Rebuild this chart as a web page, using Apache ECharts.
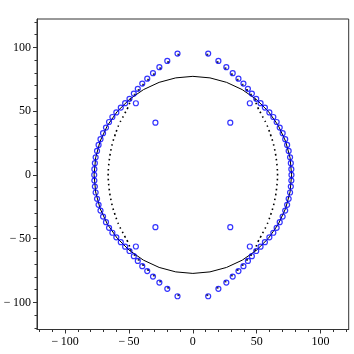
<!DOCTYPE html>
<html>
<head>
<meta charset="utf-8">
<script src="https://cdn.jsdelivr.net/npm/echarts@6/dist/echarts.min.js"></script>
<style>
  html, body { margin: 0; padding: 0; background: #fff; }
  #main { width: 354px; height: 354px; }
</style>
</head>
<body>
<div id="main"></div>
<script>
// axis ranges and ticks
var xRange = [-122, 122];
var yRange = [-121.3, 122.3];
var majorTicks = [-100, -50, 0, 50, 100];
var minorTicks = [-120, -110, -90, -80, -70, -60, -40, -30, -20, -10, 10, 20, 30, 40, 60, 70, 80, 90, 110, 120];

// solid circle (radius about 77), read every 10 degrees
var solidCurve = [
  [0, 77.3], [-13.4, 76.1], [-26.4, 72.6], [-38.65, 66.9], [-49.7, 59.2], [-59.2, 49.7], [-66.9, 38.65], [-72.6, 26.4], [-76.1, 13.4],
  [-77.3, 0], [-76.1, -13.4], [-72.6, -26.4], [-66.9, -38.65], [-59.2, -49.7], [-49.7, -59.2], [-38.65, -66.9], [-26.4, -72.6], [-13.4, -76.1],
  [0, -77.3], [13.4, -76.1], [26.4, -72.6], [38.65, -66.9], [49.7, -59.2], [59.2, -49.7], [66.9, -38.65], [72.6, -26.4], [76.1, -13.4],
  [77.3, 0], [76.1, 13.4], [72.6, 26.4], [66.9, 38.65], [59.2, 49.7], [49.7, 59.2], [38.65, 66.9], [26.4, 72.6], [13.4, 76.1], [0, 77.3]
];

// dotted inner curves (left and right)
var dottedLeft = [
  [-49.4, 56.5], [-51.2, 52], [-53.4, 48], [-55.5, 44], [-57.6, 40], [-59.4, 35.5], [-61, 31], [-62.6, 26], [-63.8, 21], [-64.8, 16],
  [-65.5, 11], [-66, 6], [-66.3, 0], [-66, -6], [-65.5, -11], [-64.8, -16], [-63.8, -21], [-62.6, -26], [-61, -31], [-59.4, -35.5],
  [-57.6, -40], [-55.5, -44], [-53.4, -48], [-51.2, -52], [-49.4, -56.5]
];
var dottedRight = [
  [49.4, 56.5], [51.2, 52], [53.4, 48], [55.5, 44], [57.6, 40], [59.4, 35.5], [61, 31], [62.6, 26], [63.8, 21], [64.8, 16],
  [65.5, 11], [66, 6], [66.3, 0], [66, -6], [65.5, -11], [64.8, -16], [63.8, -21], [62.6, -26], [61, -31], [59.4, -35.5],
  [57.6, -40], [55.5, -44], [53.4, -48], [51.2, -52], [49.4, -56.5]
];

// sparse black points near the top and bottom
var blackPoints = [
  [-11.3, 94.3], [-19.3, 88.5], [-25.5, 83.6], [-30.5, 78.9], [-35, 74.6], [-38.9, 70.7], [-42.4, 66.6], [-45.5, 62.9], [-48.8, 58.9],
  [11.3, 94.3], [19.3, 88.5], [25.5, 83.6], [30.5, 78.9], [35, 74.6], [38.9, 70.7], [42.4, 66.6], [45.5, 62.9], [48.8, 58.9],
  [-11.3, -94.3], [-19.3, -88.5], [-25.5, -83.6], [-30.5, -78.9], [-35, -74.6], [-38.9, -70.7], [-42.4, -66.6], [-45.5, -62.9], [-48.8, -58.9],
  [11.3, -94.3], [19.3, -88.5], [25.5, -83.6], [30.5, -78.9], [35, -74.6], [38.9, -70.7], [42.4, -66.6], [45.5, -62.9], [48.8, -58.9]
];

// blue circles
var blueUpperLeft = [
  [-12, 95.2], [-20, 89.4], [-26.2, 84.5], [-31.2, 79.8], [-35.7, 75.5], [-39.6, 71.6], [-43.1, 67.5], [-46.2, 63.8], [-49.6, 59.7],
  [-53, 56.3], [-56.4, 52.8], [-59.9, 49], [-63, 45.4], [-65.6, 41.5], [-68, 37.1], [-70.3, 32.7], [-72.3, 28], [-73.8, 23.5],
  [-75, 18.8], [-76.1, 13.8], [-76.7, 9.2], [-77.1, 4.5], [-77.2, 0]
];
var blueLowerLeft = [
  [-12, -95.2], [-20, -89.4], [-26.2, -84.5], [-31.2, -79.8], [-35.7, -75.5], [-39.6, -71.6], [-43.1, -67.5], [-46.2, -63.8], [-49.6, -59.7],
  [-53, -56.3], [-56.4, -52.8], [-59.9, -49], [-63, -45.4], [-65.6, -41.5], [-68, -37.1], [-70.3, -32.7], [-72.3, -28], [-73.8, -23.5],
  [-75, -18.8], [-76.1, -13.8], [-76.7, -9.2], [-77.1, -4.5]
];
var blueUpperRight = [
  [12, 95.2], [20, 89.4], [26.2, 84.5], [31.2, 79.8], [35.7, 75.5], [39.6, 71.6], [43.1, 67.5], [46.2, 63.8], [49.6, 59.7],
  [53, 56.3], [56.4, 52.8], [59.9, 49], [63, 45.4], [65.6, 41.5], [68, 37.1], [70.3, 32.7], [72.3, 28], [73.8, 23.5],
  [75, 18.8], [76.1, 13.8], [76.7, 9.2], [77.1, 4.5], [77.2, 0]
];
var blueLowerRight = [
  [12, -95.2], [20, -89.4], [26.2, -84.5], [31.2, -79.8], [35.7, -75.5], [39.6, -71.6], [43.1, -67.5], [46.2, -63.8], [49.6, -59.7],
  [53, -56.3], [56.4, -52.8], [59.9, -49], [63, -45.4], [65.6, -41.5], [68, -37.1], [70.3, -32.7], [72.3, -28], [73.8, -23.5],
  [75, -18.8], [76.1, -13.8], [76.7, -9.2], [77.1, -4.5]
];
var blueIsolated = [
  [-44.6, 56.2], [44.6, 56.2], [-44.6, -56.2], [44.6, -56.2],
  [-29.3, 41], [29.3, 41], [-29.3, -41], [29.3, -41]
];

var FONT = '"Liberation Serif", "DejaVu Serif", serif';
var AXIS_COLOR = '#333';

function fmt(v) {
  return v < 0 ? '\u2212\u2009' + (-v) : String(v);
}

function majorAxis(range, pos) {
  return {
    type: 'value', min: range[0], max: range[1], position: pos,
    axisLine: { show: true, onZero: false, lineStyle: { color: AXIS_COLOR, width: 1 } },
    axisTick: { show: true, customValues: majorTicks, length: 4, lineStyle: { color: AXIS_COLOR } },
    axisLabel: { customValues: majorTicks, formatter: fmt, margin: 6, color: '#000', fontFamily: FONT, fontSize: 12 },
    splitLine: { show: false }
  };
}
function minorAxis(range, pos) {
  return {
    type: 'value', min: range[0], max: range[1], position: pos, offset: 0,
    axisLine: { show: false, onZero: false },
    axisTick: { show: true, customValues: minorTicks, length: 2.5, lineStyle: { color: AXIS_COLOR } },
    axisLabel: { show: false },
    splitLine: { show: false }
  };
}

function blueSeries(data) {
  return {
    type: 'scatter', data: data, symbol: 'circle', symbolSize: 5, z: 5,
    itemStyle: { color: 'rgba(0,0,0,0)', borderColor: '#0000ff', borderWidth: 1.2 }
  };
}

var chart = echarts.init(document.getElementById('main'));
chart.setOption({
  animation: false,
  backgroundColor: '#fff',
  grid: { left: 37, right: 5.3, top: 19, bottom: 24.5, show: true, borderColor: AXIS_COLOR, borderWidth: 1 },
  xAxis: [majorAxis(xRange, 'bottom'), minorAxis(xRange, 'bottom')],
  yAxis: [majorAxis(yRange, 'left'), minorAxis(yRange, 'left')],
  series: [
    {
      type: 'line', data: solidCurve, showSymbol: false, smooth: false, z: 2,
      lineStyle: { color: '#000', width: 1 }
    },
    {
      type: 'line', data: dottedLeft, showSymbol: false, smooth: true, z: 3,
      lineStyle: { color: '#000', width: 1.6, type: [1.6, 3.4], cap: 'butt' }
    },
    {
      type: 'line', data: dottedRight, showSymbol: false, smooth: true, z: 3,
      lineStyle: { color: '#000', width: 1.6, type: [1.6, 3.4], cap: 'butt' }
    },
    {
      type: 'scatter', data: blackPoints, symbol: 'rect', symbolSize: 2, z: 4,
      itemStyle: { color: '#000' }
    },
    blueSeries(blueUpperLeft),
    blueSeries(blueLowerLeft),
    blueSeries(blueUpperRight),
    blueSeries(blueLowerRight),
    blueSeries(blueIsolated)
  ]
});
</script>
</body>
</html>
